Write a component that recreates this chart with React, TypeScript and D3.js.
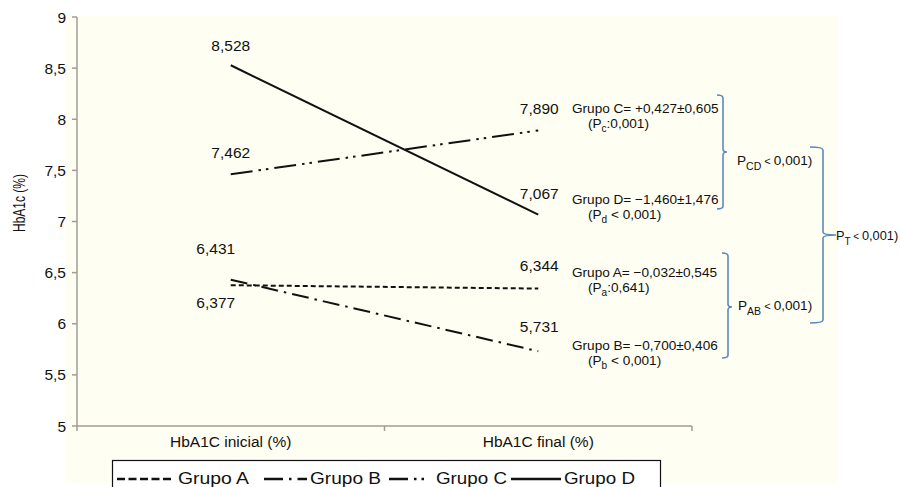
import React from "react";
import * as d3 from "d3";

// values
const categories = ["HbA1C inicial (%)", "HbA1C final (%)"];
const groups = ["Grupo A", "Grupo B", "Grupo C", "Grupo D"];
const grupoA = [6.377, 6.344];
const grupoB = [6.431, 5.731];
const grupoC = [7.462, 7.89];
const grupoD = [8.528, 7.067];
const yTicks = [5, 5.5, 6, 6.5, 7, 7.5, 8, 8.5, 9];

// per-group change annotations
const changeText = [
  "Grupo A= \u22120,032\u00b10,545",
  "Grupo B= \u22120,700\u00b10,406",
  "Grupo C= +0,427\u00b10,605",
  "Grupo D= \u22121,460\u00b11,476",
];
const pSub = ["a", "b", "c", "d"];
const pRest = [":0,641)", " < 0,001)", ":0,001)", " < 0,001)"];

const series = [grupoA, grupoB, grupoC, grupoD];

// styling / layout
const W = 901;
const H = 487;
const font = "'Liberation Sans', Arial, Helvetica, sans-serif";
const bg = "#fffef2";
const axisColor = "#a19d95";
const braceColor = "#5d89bd";
const dashes = ["5 3", "17 6 2.5 6", "22 6 2.5 5 2.5 6", null];
const legendDashes = ["8 3.5", "19 6 2.5 6", "19 6 2.5 5 2.5 6", null];
const labelShift = [
  [[-15, 23], [1, -18]],
  [[-15, -26], [1, -19]],
  [[0, -16], [1, -16]],
  [[0, -14], [1, -16]],
];
const noteY = [277, 350, 113, 204];
const legendSym = [[117, 174], [264, 307], [389, 429], [511, 561]];
const legendTextX = [178, 310, 436, 564];

const locale = d3.formatLocale({ decimal: ",", thousands: ".", grouping: [3], currency: ["", ""] });
const tickFmt = locale.format(".1~f");
const valFmt = locale.format(".3f");

const bracePath = (x: number, top: number, bottom: number, mid: number, w: number, t: number) => {
  const r = 3;
  return `M${x - w},${top} Q${x},${top} ${x},${top + r} L${x},${mid - r} Q${x},${mid} ${x + t},${mid} Q${x},${mid} ${x},${mid + r} L${x},${bottom - r} Q${x},${bottom} ${x - w},${bottom}`;
};

const App = () => {
  const x = d3.scaleBand().domain(categories).range([77, 692]);
  const y = d3.scaleLinear().domain([5, 9]).range([426, 17]);
  const cx = (c: string) => (x(c) as number) + x.bandwidth() / 2;
  const line = d3
    .line<number>()
    .x((_, i) => cx(categories[i]))
    .y((d) => y(d));

  return (
    <div style={{ position: "fixed", left: 0, top: 0, width: W, height: H, background: "#fff" }}>
      <svg width={W} height={H} style={{ display: "block", fontFamily: font }}>
        <rect x={65} y={16} width={773} height={467} fill={bg} />

        {/* y axis */}
        <line x1={77} x2={77} y1={y(9)} y2={y(5)} stroke={axisColor} strokeWidth={1.5} />
        {yTicks.map((t) => (
          <g key={t}>
            <line x1={72} x2={77} y1={y(t)} y2={y(t)} stroke={axisColor} strokeWidth={1.5} />
            <text x={66} y={y(t)} dy="0.36em" textAnchor="end" fontSize={15.5} fill="#111">
              {tickFmt(t)}
            </text>
          </g>
        ))}
        <text
          transform={`translate(19,203) rotate(-90)`}
          textAnchor="middle"
          dy="0.36em"
          fontSize={17}
          textLength={58}
          lengthAdjust="spacingAndGlyphs"
          fill="#111"
        >
          HbA1c (%)
        </text>

        {/* x axis */}
        <line x1={77} x2={692} y1={y(5)} y2={y(5)} stroke={axisColor} strokeWidth={1.5} />
        {[77, ...categories.map((c) => (x(c) as number) + x.bandwidth())].map((t) => (
          <line key={t} x1={t} x2={t} y1={y(5)} y2={y(5) + 5} stroke={axisColor} strokeWidth={1.5} />
        ))}
        {categories.map((c) => (
          <text key={c} x={cx(c)} y={447} textAnchor="middle" fontSize={15.5} fill="#111">
            {c}
          </text>
        ))}

        {/* lines */}
        {series.map((s, i) => (
          <path
            key={groups[i]}
            d={line(s) as string}
            fill="none"
            stroke="#111"
            strokeWidth={2}
            strokeDasharray={dashes[i] ?? undefined}
          />
        ))}

        {/* value labels */}
        {series.map((s, i) =>
          s.map((v, j) => (
            <text
              key={`${i}-${j}`}
              x={cx(categories[j]) + labelShift[i][j][0]}
              y={y(v) + labelShift[i][j][1]}
              textAnchor="middle"
              fontSize={15.5}
              fill="#111"
            >
              {valFmt(v)}
            </text>
          ))
        )}

        {/* change annotations */}
        {changeText.map((t, i) => (
          <g key={t} fontSize={13.6} fill="#111">
            <text x={572} y={noteY[i]}>{t}</text>
            <text x={588} y={noteY[i] + 15}>
              (P<tspan fontSize={10} dy={4}>{pSub[i]}</tspan>
              <tspan dy={-4}>{pRest[i]}</tspan>
            </text>
          </g>
        ))}

        {/* braces */}
        <path d={bracePath(723, 95, 209, 152, 6, 4)} fill="none" stroke={braceColor} strokeWidth={1.6} />
        <path d={bracePath(728, 253, 358, 307, 6, 4)} fill="none" stroke={braceColor} strokeWidth={1.6} />
        <path d={bracePath(823, 147, 323, 235, 13, 13)} fill="none" stroke={braceColor} strokeWidth={1.6} />
        <g fontSize={13.6} fill="#111">
          <text x={737} y={165}>
            P<tspan fontSize={10.5} dy={5}>CD</tspan>
            <tspan dy={-5} fontSize={11}> &lt; </tspan>0,001)
          </text>
          <text x={738} y={310}>
            P<tspan fontSize={10.5} dy={5}>AB</tspan>
            <tspan dy={-5} fontSize={11}> &lt; </tspan>0,001)
          </text>
          <text x={836} y={240} fontSize={12.8}>
            P<tspan fontSize={10} dy={5}>T</tspan>
            <tspan dy={-5} fontSize={10}> &lt; </tspan>0,001)
          </text>
        </g>

        {/* legend */}
        <rect x={112.5} y={460.5} width={548} height={40} fill="#fff" stroke="#111" strokeWidth={1.2} />
        {groups.map((g, i) => (
          <g key={g}>
            <line
              x1={legendSym[i][0]}
              x2={legendSym[i][1]}
              y1={479}
              y2={479}
              stroke="#111"
              strokeWidth={2.5}
              strokeDasharray={legendDashes[i] ?? undefined}
            />
            <text
              x={legendTextX[i]}
              y={484}
              fontSize={16.5}
              textLength={71}
              lengthAdjust="spacingAndGlyphs"
              fill="#111"
            >
              {g}
            </text>
          </g>
        ))}
      </svg>
    </div>
  );
};

export default App;
